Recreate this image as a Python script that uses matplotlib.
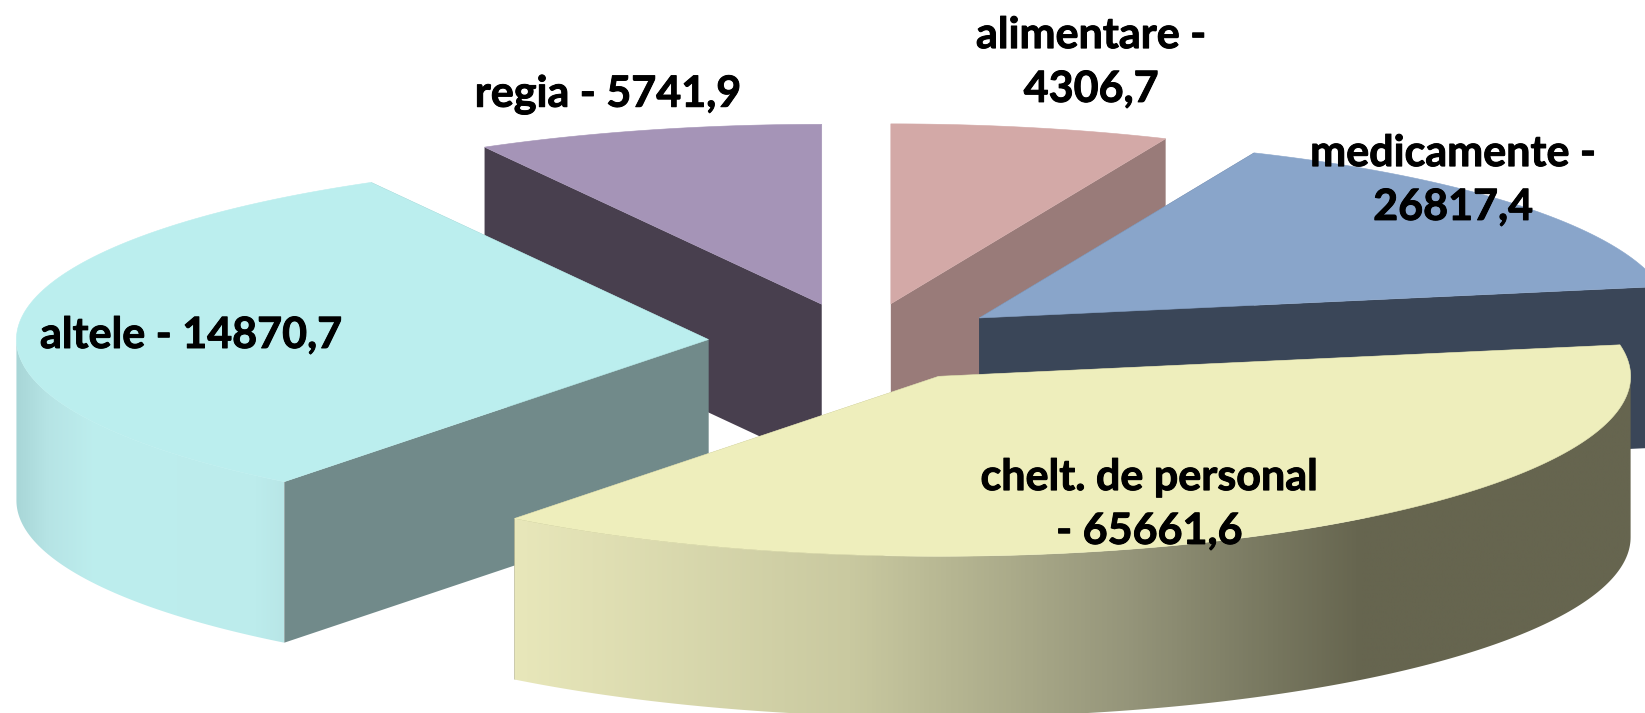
"""Exploded 3D pie, drawn as projected polygons (matplotlib has no 3D pie)."""

import numpy as np
import matplotlib
matplotlib.use("Agg")
import matplotlib.pyplot as plt
import matplotlib.patheffects as pe
from matplotlib.colors import LinearSegmentedColormap
from matplotlib.patches import Polygon

# order clockwise from 12 o'clock
categories = ["alimentare", "medicamente", "chelt. de personal", "altele", "regia"]
value_labels = ["4306,7", "26817,4", "65661,6", "14870,7", "5741,9"]
# size of the slices as drawn in the picture (%), not the same as the printed values
slice_share = [6.5, 15.7, 38.3, 31.4, 8.1]

top_colors = ["#d3a9a7", "#89a5ca", "#eeeebc", "#bbeeee", "#a594b7"]
side_colors = ["#997b79", "#3a4658", "#66654f", "#718a8a", "#483f4e"]

# rim gradients, left to right over the visible rim
rim_stops = {
    "chelt. de personal": [(0.0, "#e8e7ba"), (0.3, "#c9c9a0"), (0.55, "#95957a"),
                           (0.68, "#77775f"), (0.76, "#66654f"), (1.0, "#66654f")],
    "altele": [(0.0, "#a8d6d7"), (0.12, "#b6e4e5"), (0.3, "#bdeeee"),
               (0.9, "#bcecec"), (1.0, "#b8e6e7")],
}

# how each label breaks over its lines
label_format = {
    "alimentare": "{} -\n{}",
    "medicamente": "{} -\n{}",
    "chelt. de personal": "{}\n- {}",
    "altele": "{} - {}",
    "regia": "{} - {}",
}
# centre of each label block, pixels
label_pos = {
    "alimentare": (1091, 62),
    "medicamente": (1453, 180),
    "chelt. de personal": (1149, 504),
    "altele": (191, 335),
    "regia": (608, 94),
}

# projection of the pie, pixels
CX, CY = 860.0, 342.5
RADIUS = 692.0
SQUASH = 0.26
EXPLODE = 152.0
DEPTH = 161.0


def project(theta_deg, r):
    """Clockwise angle from the top -> picture coordinates around the centre."""
    t = np.radians(theta_deg)
    return r * np.sin(t), -r * SQUASH * np.cos(t)


def draw_slice(ax, name, start, end, top, side, z):
    mid = (start + end) / 2.0
    dx, dy = project(mid, EXPLODE)
    ax0, ay0 = CX + dx, CY + dy

    def rim_point(theta):
        x, y = project(theta, RADIUS)
        return ax0 + x, ay0 + y

    # cut faces; the ones turned away end up under the top and the rim
    for theta in (start, end):
        x, y = rim_point(theta)
        ax.add_patch(Polygon([(ax0, ay0), (x, y), (x, y + DEPTH), (ax0, ay0 + DEPTH)],
                             closed=True, fc=side, ec="none", lw=0, zorder=z))

    # outer rim, only the front half can be seen
    lo, hi = max(start, 90.0), min(end, 270.0)
    if hi > lo:
        angles = np.linspace(lo, hi, 200)
        xs, ys = rim_point(angles)
        pts = np.r_[np.c_[xs, ys], np.c_[xs, ys + DEPTH][::-1]]
        poly = Polygon(pts, closed=True, fc="none", ec="none", zorder=z)
        ax.add_patch(poly)
        cmap = LinearSegmentedColormap.from_list(name, rim_stops[name])
        grad = np.linspace(0, 1, 512).reshape(1, -1)
        im = ax.imshow(grad, cmap=cmap, aspect="auto", interpolation="bilinear", zorder=z + 0.1,
                       extent=(xs.min(), xs.max(), pts[:, 1].max(), pts[:, 1].min()))
        im.set_clip_path(poly)

    # top face
    angles = np.linspace(start, end, 200)
    xs, ys = rim_point(angles)
    ax.add_patch(Polygon(np.r_[[(ax0, ay0)], np.c_[xs, ys]], closed=True,
                         fc=top, ec=top, lw=0.4, zorder=z + 0.2))


def main():
    fig = plt.figure(figsize=(16.45, 7.13), dpi=100)
    ax = fig.add_axes([0, 0, 1, 1])

    angles = np.cumsum([0.0] + slice_share) / sum(slice_share) * 360.0
    # back slices first, personal last since it lies over the others
    for z, i in enumerate([0, 4, 1, 3, 2]):
        draw_slice(ax, categories[i], angles[i], angles[i + 1],
                   top_colors[i], side_colors[i], z + 1)

    for name, value in zip(categories, value_labels):
        x, y = label_pos[name]
        ax.text(x, y, label_format[name].format(name, value), ha="center", va="center",
                family="Lato", fontweight="bold", fontsize=31, color="black",
                linespacing=1.42, zorder=10,
                path_effects=[pe.withStroke(linewidth=0.7, foreground="black")])

    ax.set_xlim(0, 1645)
    ax.set_ylim(713, 0)
    ax.axis("off")
    fig.savefig("out.png", dpi=100, facecolor="white")


if __name__ == "__main__":
    main()
